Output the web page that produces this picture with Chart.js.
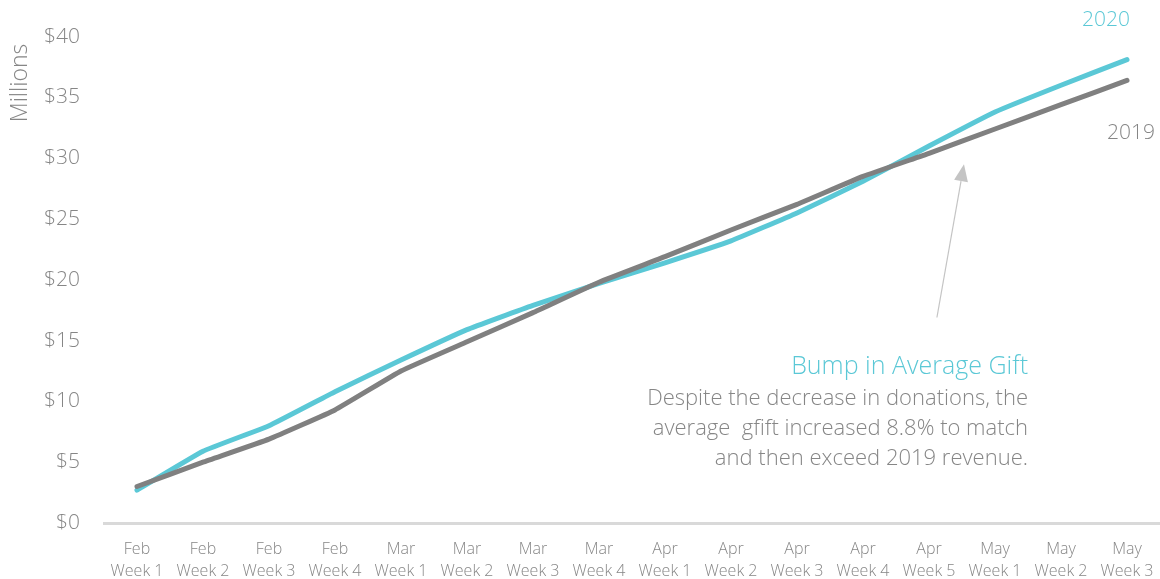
<!DOCTYPE html>
<html>
<head>
<meta charset="utf-8">
<title>Cumulative revenue 2019 vs 2020</title>
<script src="https://cdn.jsdelivr.net/npm/chart.js@4.4.1/dist/chart.umd.min.js"></script>
<style>
  body { margin: 0; background: #fff; }
  canvas { display: block; }
</style>
</head>
<body>
<canvas id="revenueChart" width="1160" height="579"></canvas>
<script>
// weekly cumulative revenue, in millions
const weeks = [
  ['Feb', 'Week 1'], ['Feb', 'Week 2'], ['Feb', 'Week 3'], ['Feb', 'Week 4'],
  ['Mar', 'Week 1'], ['Mar', 'Week 2'], ['Mar', 'Week 3'], ['Mar', 'Week 4'],
  ['Apr', 'Week 1'], ['Apr', 'Week 2'], ['Apr', 'Week 3'], ['Apr', 'Week 4'], ['Apr', 'Week 5'],
  ['May', 'Week 1'], ['May', 'Week 2'], ['May', 'Week 3']
];
const revenue2019 = [3.0, 5.0, 6.9, 9.3, 12.5, 14.9, 17.3, 19.8, 21.9, 24.1, 26.2, 28.5, 30.4, 32.4, 34.4, 36.4];
const revenue2020 = [2.7, 5.9, 8.0, 10.8, 13.4, 15.9, 17.9, 19.7, 21.4, 23.2, 25.5, 28.1, 31.0, 33.8, 36.0, 38.1];
const yTicks = [0, 5, 10, 15, 20, 25, 30, 35, 40];

const seriesNames = ['2020', '2019'];
const noteTitle = 'Bump in Average Gift';
const noteLines = [
  'Despite the decrease in donations, the',
  'average  gfift increased 8.8% to match',
  'and then exceed 2019 revenue.'
];
// arrow in data units: [category index, millions]
const arrowFrom = [12.12, 16.9];
const arrowTo = [12.53, 29.5];

const TEAL = '#5bc8d6';
const GREY = '#808080';
const TEXT = '#868686';
const FONT = "'Open Sans', 'Noto Sans', sans-serif";

const notes = {
  id: 'notes',
  afterDraw(chart) {
    const { ctx, scales: { x, y } } = chart;
    ctx.save();

    // y axis title
    ctx.save();
    ctx.translate(20, 83);
    ctx.rotate(-Math.PI / 2);
    ctx.font = `300 23px ${FONT}`;
    ctx.fillStyle = TEXT;
    ctx.textAlign = 'center';
    ctx.textBaseline = 'middle';
    ctx.fillText('Millions', 0, 0);
    ctx.restore();

    // series labels
    ctx.font = `300 21px ${FONT}`;
    ctx.textAlign = 'center';
    ctx.textBaseline = 'middle';
    ctx.fillStyle = TEAL;
    ctx.fillText(seriesNames[0], 1106, 20);
    ctx.fillStyle = TEXT;
    ctx.fillText(seriesNames[1], 1131, 133);

    // arrow
    const x0 = x.getPixelForValue(arrowFrom[0]), y0 = y.getPixelForValue(arrowFrom[1]);
    const x1 = x.getPixelForValue(arrowTo[0]), y1 = y.getPixelForValue(arrowTo[1]);
    const ang = Math.atan2(y1 - y0, x1 - x0);
    const head = 17, half = 7;
    const bx = x1 - head * Math.cos(ang), by = y1 - head * Math.sin(ang);
    ctx.strokeStyle = '#c4c4c4';
    ctx.fillStyle = '#c4c4c4';
    ctx.lineWidth = 1.2;
    ctx.beginPath();
    ctx.moveTo(x0, y0);
    ctx.lineTo(bx, by);
    ctx.stroke();
    ctx.beginPath();
    ctx.moveTo(x1, y1);
    ctx.lineTo(bx + half * Math.sin(ang), by - half * Math.cos(ang));
    ctx.lineTo(bx - half * Math.sin(ang), by + half * Math.cos(ang));
    ctx.closePath();
    ctx.fill();

    // note text
    ctx.textAlign = 'right';
    ctx.textBaseline = 'middle';
    ctx.font = `300 25px ${FONT}`;
    ctx.fillStyle = TEAL;
    ctx.fillText(noteTitle, 1028, 367);
    ctx.font = `300 22px ${FONT}`;
    ctx.fillStyle = TEXT;
    noteLines.forEach((line, i) => ctx.fillText(line, 1028, 399 + i * 30));

    ctx.restore();
  }
};

new Chart(document.getElementById('revenueChart'), {
  type: 'line',
  data: {
    labels: weeks,
    datasets: [
      {
        label: seriesNames[1],
        data: revenue2019,
        borderColor: GREY,
        borderWidth: 5,
        borderCapStyle: 'round',
        pointRadius: 0,
        tension: 0.1
      },
      {
        label: seriesNames[0],
        data: revenue2020,
        borderColor: TEAL,
        borderWidth: 5,
        borderCapStyle: 'round',
        pointRadius: 0,
        tension: 0.1
      }
    ]
  },
  options: {
    responsive: false,
    animation: false,
    layout: { padding: { top: 29, right: 0, left: 0, bottom: 0 } },
    plugins: {
      legend: { display: false },
      tooltip: { enabled: false }
    },
    scales: {
      x: {
        offset: true,
        grid: { display: false, drawTicks: false },
        border: { display: true, color: '#d9d9d9', width: 3 },
        ticks: {
          color: TEXT,
          padding: 15,
          maxRotation: 0,
          autoSkip: false,
          font: { family: FONT, size: 16, weight: '300', lineHeight: '22px' }
        },
        afterFit(scale) {
          scale.height = 56;
          scale.paddingLeft = 0;
          scale.paddingRight = 0;
        }
      },
      y: {
        min: 0,
        max: 40,
        afterBuildTicks(scale) { scale.ticks = yTicks.map(v => ({ value: v })); },
        grid: { display: false, drawTicks: false },
        border: { display: false },
        ticks: {
          color: TEXT,
          padding: 24,
          callback: v => '$' + v,
          font: { family: FONT, size: 21, weight: '300' }
        },
        afterFit(scale) { scale.width = 104; }
      }
    }
  },
  plugins: [notes]
});
</script>
</body>
</html>
